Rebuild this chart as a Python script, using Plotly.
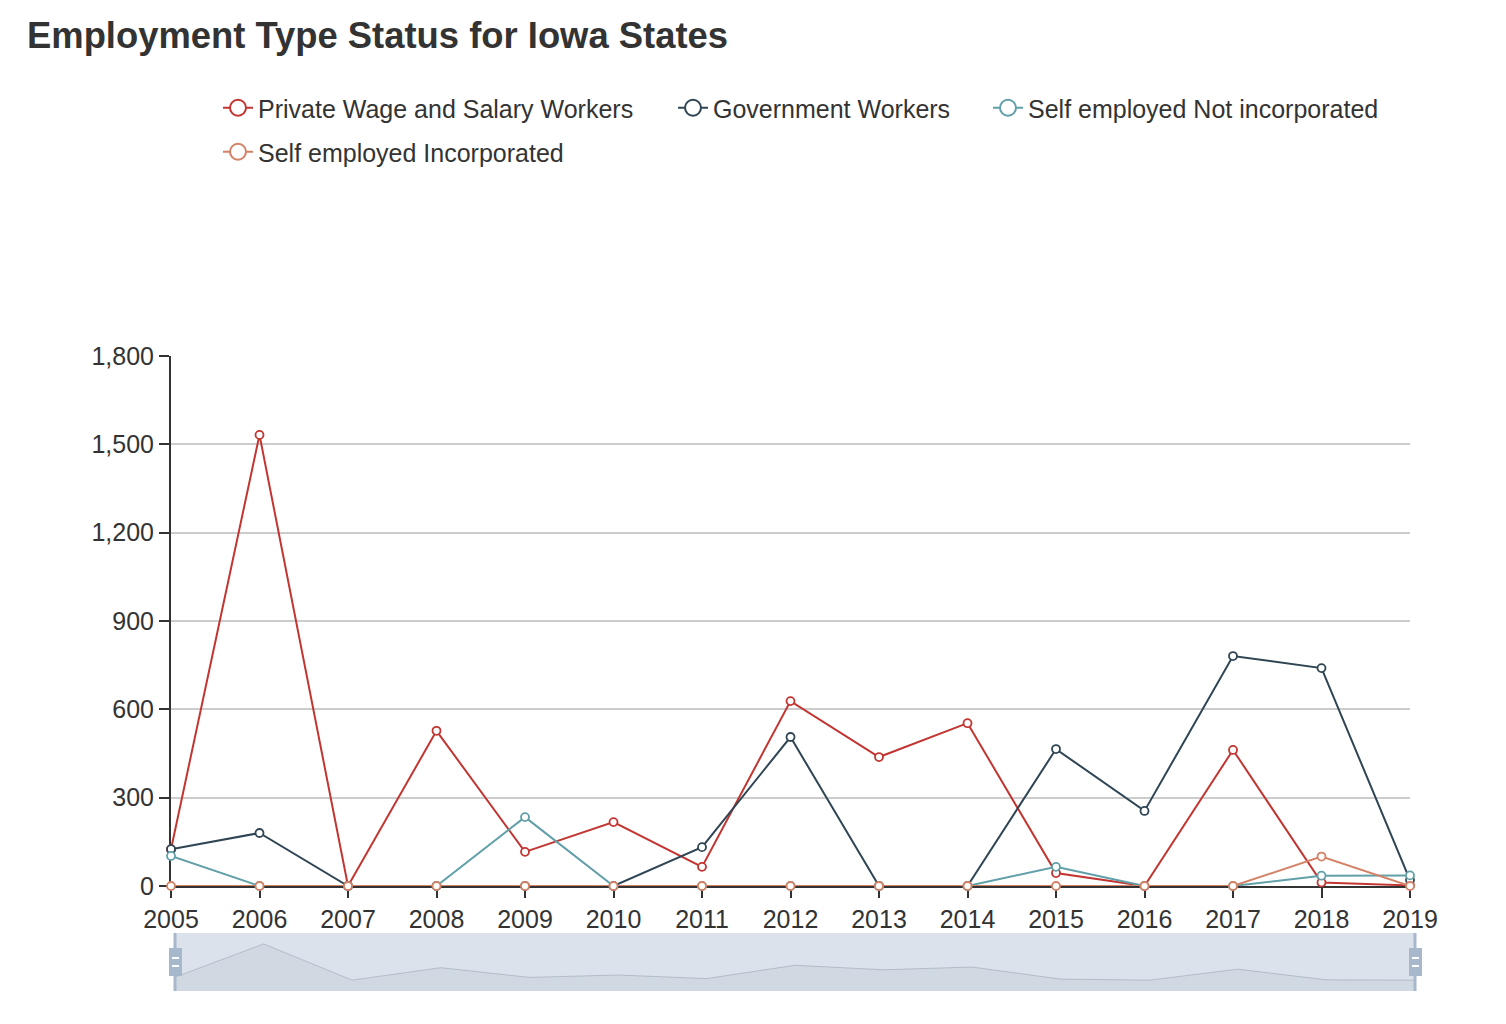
import plotly.graph_objects as go

# ---------------- data ----------------
years = list(range(2005, 2020))
private_wage = [125, 1532, 0, 527, 116, 217, 65, 628, 438, 553, 44, 0, 462, 12, 2]
government = [125, 180, 0, 0, 0, 0, 132, 506, 0, 0, 465, 255, 781, 740, 20]
self_not_inc = [102, 0, 0, 0, 234, 0, 0, 0, 0, 0, 65, 0, 0, 35, 36]
self_inc = [0, 0, 0, 0, 0, 0, 0, 0, 0, 0, 0, 0, 0, 100, 0]

series_names = [
    "Private Wage and Salary Workers",
    "Government Workers",
    "Self employed Not incorporated",
    "Self employed Incorporated",
]
series_values = [private_wage, government, self_not_inc, self_inc]
colors = ["#c23531", "#2f4554", "#61a0a8", "#d48265"]
y_ticks = [0, 300, 600, 900, 1200, 1500, 1800]

# page has an 8px body margin; lay out in page pixels and subtract it
OFF = 8
W, H = 1506 - 2 * OFF, 1024 - 2 * OFF
FONT = "Liberation Sans, Arial, sans-serif"


def px_x(p):
    return p - OFF


def px_y(p):
    return p - OFF


plot_l, plot_r_main, plot_r_slider = px_x(171), px_x(1410), px_x(1415)
plot_t, y0_px, slider_t, slider_b = px_y(356), px_y(886), px_y(933), px_y(991)
pw = plot_r_slider - plot_l
ph = slider_b - plot_t

fig = go.Figure()

legend_ids = ["legend", "legend2", "legend3", "legend4"]
for name, vals, col in zip(series_names, series_values, colors):
    fig.add_trace(go.Scatter(
        x=years, y=vals, name=name, mode="lines+markers",
        line=dict(color=col, width=2),
        marker=dict(symbol="circle", size=8, color="white", line=dict(color=col, width=1.8)),
        cliponaxis=False, showlegend=False, xaxis="x", yaxis="y",
    ))

# legend entries (bigger symbol, as in the original legend)
for name, col, lg in zip(series_names, colors, legend_ids):
    fig.add_trace(go.Scatter(
        x=[None], y=[None], name=name, mode="lines+markers",
        line=dict(color=col, width=2),
        marker=dict(symbol="circle", size=16, color="white", line=dict(color=col, width=2)),
        legend=lg, showlegend=True, hoverinfo="skip", xaxis="x", yaxis="y",
    ))

# data-zoom shadow (first series), extent padded like the slider does
mn, mx = min(private_wage), max(private_wage)
pad = (mx - mn) * 0.3
lower, upper = mn - pad, mx + pad
fig.add_trace(go.Scatter(
    x=years, y=[lower] * len(years), mode="lines", line=dict(width=0),
    showlegend=False, hoverinfo="skip", xaxis="x2", yaxis="y2",
))
fig.add_trace(go.Scatter(
    x=years, y=private_wage, mode="lines", fill="tonexty",
    fillcolor="rgba(47,69,84,0.09)", line=dict(color="rgba(47,69,84,0.3)", width=1),
    showlegend=False, hoverinfo="skip", xaxis="x2", yaxis="y2",
))

shapes = [
    dict(type="rect", xref="x2 domain", yref="y2 domain", x0=0, x1=1, y0=0, y1=1,
         fillcolor="rgba(167,183,204,0.4)", line=dict(width=0), layer="above"),
]
for xa in (0, 1):
    shapes.append(dict(type="line", xref="x2 domain", yref="y2 domain", x0=xa, x1=xa, y0=0, y1=1,
                       line=dict(color="#a7b7cc", width=3), layer="above"))
    shapes.append(dict(type="rect", xref="x2 domain", yref="y2 domain",
                       xsizemode="pixel", xanchor=xa, x0=-6, x1=7,
                       ysizemode="pixel", yanchor=0.5, y0=-14, y1=14,
                       fillcolor="#a7b7cc", line=dict(width=0), layer="above"))
    for dy in (-4, 4):
        shapes.append(dict(type="line", xref="x2 domain", yref="y2 domain",
                           xsizemode="pixel", xanchor=xa, x0=-3, x1=4,
                           ysizemode="pixel", yanchor=0.5, y0=dy, y1=dy,
                           line=dict(color="white", width=2), layer="above"))

legend_common = dict(orientation="h", xref="container", yref="container",
                     xanchor="left", yanchor="middle", bgcolor="rgba(0,0,0,0)",
                     font=dict(family=FONT, size=25, color="#333"))
legend_pos = [(218, 108), (673, 108), (988, 108), (218, 152)]
legend_layouts = {}
for lg, (lx, ly) in zip(legend_ids, legend_pos):
    legend_layouts[lg] = dict(legend_common, x=px_x(lx) / W, y=1 - px_y(ly) / H)

fig.update_layout(
    width=W, height=H,
    paper_bgcolor="white", plot_bgcolor="white",
    margin=dict(l=plot_l, r=W - plot_r_slider, t=plot_t, b=H - slider_b, autoexpand=False),
    title=dict(text="<b>Employment Type Status for Iowa States</b>",
               xref="container", yref="container", x=px_x(27) / W, xanchor="left",
               y=1 - px_y(35) / H, yanchor="middle",
               font=dict(family=FONT, size=36.4, color="#333")),
    xaxis=dict(domain=[0, (plot_r_main - plot_l) / pw], range=[years[0], years[-1]],
               tickmode="array", tickvals=years, ticktext=[str(y) for y in years],
               showgrid=False, zeroline=False, showline=True, linecolor="#333", linewidth=2,
               ticks="outside", ticklen=10, tickwidth=2, tickcolor="#333",
               layer="below traces",
               tickfont=dict(family=FONT, size=25, color="#333"), anchor="y"),
    yaxis=dict(domain=[(slider_b - y0_px) / ph, 1], range=[0, 1800],
               tickmode="array", tickvals=y_ticks, ticktext=[f"{v:,}" for v in y_ticks],
               showgrid=True, gridcolor="#ccc", gridwidth=2, zeroline=False,
               showline=True, linecolor="#333", linewidth=2,
               ticks="outside", ticklen=10, tickwidth=2, tickcolor="#333",
               layer="below traces",
               tickfont=dict(family=FONT, size=25, color="#333"), anchor="x"),
    xaxis2=dict(domain=[(px_x(175) - plot_l) / pw, 1], range=[years[0], years[-1]],
                visible=False, anchor="y2", fixedrange=True),
    yaxis2=dict(domain=[0, (slider_b - slider_t) / ph], range=[lower, upper],
                visible=False, anchor="x2", fixedrange=True),
    shapes=shapes,
    showlegend=True,
    **legend_layouts,
)

fig.write_html("out.html")
